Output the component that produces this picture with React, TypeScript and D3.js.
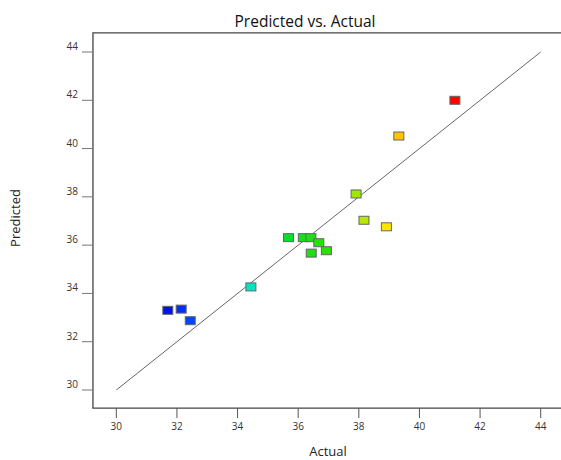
import React from "react";
import * as d3 from "d3";

const actual = [31.7, 32.14, 32.44, 34.44, 35.68, 36.17, 36.42, 36.68, 36.93, 36.43, 37.91, 38.17, 38.91, 39.32, 41.17];
const predicted = [33.3, 33.35, 32.87, 34.27, 36.31, 36.31, 36.31, 36.1, 35.77, 35.67, 38.12, 37.03, 36.76, 40.52, 42.0];
const ticks = [30, 32, 34, 36, 38, 40, 42, 44];

const colorStops = [31.7, 32.6, 34.4, 35.5, 37.0, 37.9, 38.9, 39.4, 41.2];
const colorRange = ["#0010f0", "#0050ff", "#00e6c8", "#00e030", "#30e000", "#9ee800", "#ffe600", "#ffc000", "#ff0000"];

const W = 561;
const H = 460;
const font = "'Open Sans', 'DejaVu Sans', sans-serif";

export default function App() {
  const x = d3.scaleLinear().domain([30, 44]).range([116.3, 540.7]);
  const y = d3.scaleLinear().domain([30, 44]).range([390, 52]);
  const color = d3.scaleLinear<string>().domain(colorStops).range(colorRange).clamp(true);

  const left = x(29.23);
  const bottom = y(29.25);
  const top = y(44.79);

  const line = d3.line<number>().x(d => x(d)).y(d => y(d));

  return (
    <svg width={W} height={H} style={{ position: "absolute", left: 0, top: 0, background: "#fff" }}>
      <text x={305} y={27} textAnchor="middle" fontFamily={font} fontSize={15.5} fill="#111">
        Predicted vs. Actual
      </text>

      {/* frame */}
      <path d={`M${W},${top}H${left}V${bottom}H${W}`} fill="none" stroke="#444" strokeWidth={1.3} />

      {ticks.map(t => (
        <g key={"y" + t}>
          <line x1={left - 11} x2={left} y1={y(t)} y2={y(t)} stroke="#777" strokeWidth={1} />
          <text x={left - 15} y={y(t) - 2} textAnchor="end" fontFamily={font} fontSize={10} fill="#333">
            {t}
          </text>
        </g>
      ))}
      {ticks.map(t => (
        <g key={"x" + t}>
          <line x1={x(t)} x2={x(t)} y1={bottom} y2={bottom + 10} stroke="#555" strokeWidth={1} />
          <text x={x(t)} y={bottom + 22} textAnchor="middle" fontFamily={font} fontSize={10} fill="#333">
            {t}
          </text>
        </g>
      ))}

      <text x={328} y={456} textAnchor="middle" fontFamily={font} fontSize={13} fill="#222">
        Actual
      </text>
      <text
        transform={`translate(20,218) rotate(-90)`}
        textAnchor="middle"
        fontFamily={font}
        fontSize={13}
        fill="#222"
      >
        Predicted
      </text>

      <path d={line([30, 44]) || ""} fill="none" stroke="#666" strokeWidth={1} />

      {actual.map((a, i) => (
        <rect
          key={i}
          x={x(a) - 5}
          y={y(predicted[i]) - 4}
          width={10}
          height={8}
          fill={color(a)}
          stroke="#666"
          strokeWidth={1}
        />
      ))}
    </svg>
  );
}
